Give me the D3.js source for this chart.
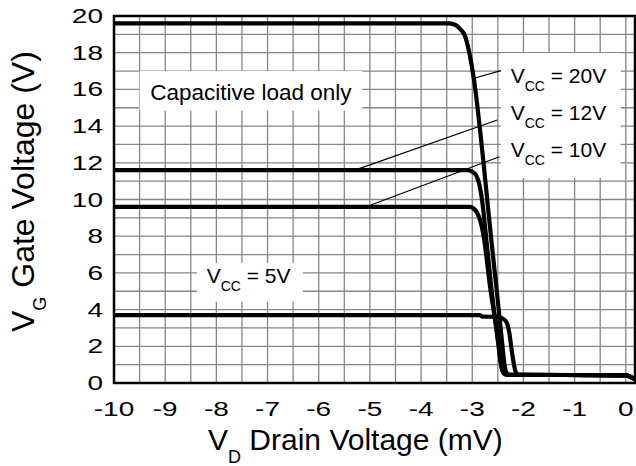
<!DOCTYPE html>
<html>
<head>
<meta charset="utf-8">
<script src="https://cdn.jsdelivr.net/npm/d3@7"></script>
<style>
  html, body { margin: 0; padding: 0; background: #fff; }
  svg { display: block; font-family: "Liberation Sans", Arial, sans-serif; }
</style>
</head>
<body>
<div id="chart"></div>
<script>
// tick values
const xTicks = [-10, -9, -8, -7, -6, -5, -4, -3, -2, -1, 0];
const yTicks = [0, 2, 4, 6, 8, 10, 12, 14, 16, 18, 20];

// gate voltage curves, [drain mV, gate V]
const vcc20 = [[-10, 19.6], [-3.45, 19.6], [-3.32, 19.5], [-3.24, 19.3], [-3.14, 18.9], [-3.05, 17.9],
  [-2.97, 16.6], [-2.90, 15.1], [-2.84, 13.6], [-2.78, 12.0], [-2.70, 9.8], [-2.62, 7.6],
  [-2.52, 5.0], [-2.42, 2.3], [-2.37, 1.0], [-2.33, 0.55], [-2.27, 0.45], [0, 0.42], [0.18, 0.2]];
const vcc12 = [[-10, 11.6], [-3.1, 11.6], [-3.0, 11.52], [-2.92, 11.3], [-2.86, 10.8], [-2.80, 9.8],
  [-2.75, 8.5], [-2.62, 5.0], [-2.50, 2.3], [-2.43, 0.9], [-2.39, 0.55], [-2.34, 0.45], [0, 0.42], [0.18, 0.2]];
const vcc10 = [[-10, 9.6], [-3.05, 9.6], [-2.97, 9.5], [-2.9, 9.25], [-2.84, 8.8], [-2.79, 8.2],
  [-2.64, 5.0], [-2.49, 2.3], [-2.43, 0.9], [-2.39, 0.55], [-2.34, 0.45], [0, 0.42], [0.18, 0.2]];
const vcc5 = [[-10, 3.7], [-2.85, 3.7], [-2.8, 3.62], [-2.5, 3.6], [-2.4, 3.5], [-2.33, 3.3],
  [-2.28, 2.8], [-2.22, 1.6], [-2.17, 0.8], [-2.13, 0.5], [-2.08, 0.45], [0, 0.42], [0.18, 0.2]];

const seriesLabels = ["20V", "12V", "10V"];
const lowLabel = "5V";
const noteText = "Capacitive load only";

// leader lines from curve to label, data units
const leaders = [
  [[-2.95, 16.62], [-2.44, 17.02]],
  [[-5.21, 11.68], [-2.51, 14.33]],
  [[-4.98, 9.70], [-2.47, 12.33]]
];

const W = 636, H = 466;
const margin = { top: 16, right: 1, bottom: 83, left: 114 };

const x = d3.scaleLinear().domain([-10, 0.18]).range([margin.left, W - margin.right]);
const y = d3.scaleLinear().domain([0, 20]).range([H - margin.bottom, margin.top]);

const svg = d3.select("#chart").append("svg")
  .attr("width", W)
  .attr("height", H);

// grid
svg.append("g")
  .selectAll("line")
  .data(d3.range(-9.5, 0.01, 0.5))
  .join("line")
  .attr("x1", (d) => x(d)).attr("x2", (d) => x(d))
  .attr("y1", y(0)).attr("y2", y(20))
  .attr("stroke", "#858585").attr("stroke-width", 1.3);

svg.append("g")
  .selectAll("line")
  .data(d3.range(1, 20, 1))
  .join("line")
  .attr("x1", x(-10)).attr("x2", x(0.18))
  .attr("y1", (d) => y(d)).attr("y2", (d) => y(d))
  .attr("stroke", "#858585").attr("stroke-width", 1.3);

// white label boxes
const boxes = [
  { x0: -9.5, x1: -5.15, y0: 14.85, y1: 17.0 },
  { x0: -2.44, x1: -0.1, y0: 11.17, y1: 17.98 },
  { x0: -8.38, x1: -6.31, y0: 4.43, y1: 6.54 }
];
svg.append("g")
  .selectAll("rect")
  .data(boxes)
  .join("rect")
  .attr("x", (d) => x(d.x0))
  .attr("y", (d) => y(d.y1))
  .attr("width", (d) => x(d.x1) - x(d.x0))
  .attr("height", (d) => y(d.y0) - y(d.y1))
  .attr("fill", "#fff");

// leader lines
svg.append("g")
  .selectAll("line")
  .data(leaders)
  .join("line")
  .attr("x1", (d) => x(d[0][0])).attr("y1", (d) => y(d[0][1]))
  .attr("x2", (d) => x(d[1][0])).attr("y2", (d) => y(d[1][1]))
  .attr("stroke", "#000").attr("stroke-width", 1.2);

// curves
const line = d3.line()
  .x((d) => x(d[0]))
  .y((d) => y(d[1]))
  .curve(d3.curveMonotoneX);

svg.append("g")
  .selectAll("path")
  .data([vcc5, vcc10, vcc12, vcc20])
  .join("path")
  .attr("d", line)
  .attr("fill", "none")
  .attr("stroke", "#000")
  .attr("stroke-width", 4.2)
  .attr("stroke-linejoin", "round");

// plot border
svg.append("rect")
  .attr("x", x(-10)).attr("y", y(20))
  .attr("width", x(0.18) - x(-10))
  .attr("height", y(0) - y(20))
  .attr("fill", "none")
  .attr("stroke", "#000")
  .attr("stroke-width", 2.5);

// tick labels (the source font is wide, so stretch it)
svg.append("g")
  .selectAll("text")
  .data(yTicks)
  .join("text")
  .attr("transform", (d) => `translate(103,${y(d) + 7}) scale(1.4,1)`)
  .attr("text-anchor", "end")
  .attr("font-size", 20)
  .text((d) => d);

svg.append("g")
  .selectAll("text")
  .data(xTicks)
  .join("text")
  .attr("transform", (d) => `translate(${x(d)},416) scale(1.4,1)`)
  .attr("text-anchor", "middle")
  .attr("font-size", 20)
  .text((d) => d);

// axis titles
const xt = svg.append("text")
  .attr("x", 208).attr("y", 450)
  .attr("font-size", 30);
xt.append("tspan").text("V");
xt.append("tspan").attr("font-size", 18).attr("dy", 13).text("D");
xt.append("tspan").attr("dy", -13).text(" Drain Voltage (mV)");

const yt = svg.append("text")
  .attr("transform", "translate(34,332) rotate(-90)")
  .attr("font-size", 32);
yt.append("tspan").text("V");
yt.append("tspan").attr("font-size", 18).attr("dy", 12).text("G");
yt.append("tspan").attr("dy", -12).text(" Gate Voltage (V)");

// annotation texts
svg.append("text")
  .attr("x", (x(-9.5) + x(-5.15)) / 2)
  .attr("y", y(15.42))
  .attr("text-anchor", "middle")
  .attr("font-size", 22.5)
  .text(noteText);

function vccLabel(xv, yv, val) {
  const t = svg.append("text")
    .attr("x", x(xv)).attr("y", y(yv))
    .attr("font-size", 21);
  t.append("tspan").text("V");
  t.append("tspan").attr("font-size", 14).attr("dy", 8).text("CC");
  t.append("tspan").attr("dy", -8).text(" = " + val);
}

const labelY = [16.33, 14.33, 12.33];
seriesLabels.forEach((s, i) => vccLabel(-2.25, labelY[i], s));
vccLabel(-8.19, 5.43, lowLabel);
</script>
</body>
</html>
